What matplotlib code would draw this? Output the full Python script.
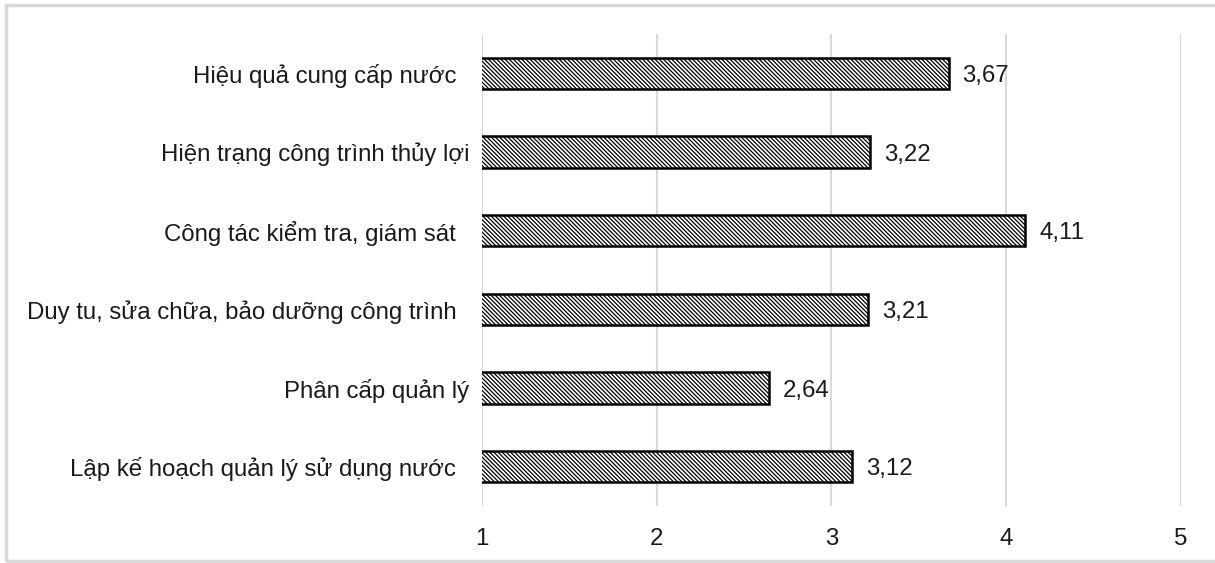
import matplotlib.pyplot as plt
from matplotlib.patches import Rectangle

plt.rcParams['font.family'] = ['Liberation Sans', 'DejaVu Sans']
plt.rcParams['hatch.linewidth'] = 0.9

categories = [
    "Hiệu quả cung cấp nước  ",
    "Hiện trạng công trình thủy lợi",
    "Công tác kiểm tra, giám sát  ",
    "Duy tu, sửa chữa, bảo dưỡng công trình  ",
    "Phân cấp quản lý",
    "Lập kế hoạch quản lý sử dụng nước  ",
]
scores = [3.67, 3.22, 4.11, 3.21, 2.64, 3.12]
xticks = [1, 2, 3, 4, 5]

fig = plt.figure(figsize=(12.15, 5.63), dpi=100)
ax = fig.add_axes([0.3967, 0.1012, 0.5753, 0.8384])

pos = list(range(len(categories)))[::-1]
ax.barh(pos, scores, height=0.4, color='white', edgecolor='black',
        linewidth=1.8, hatch='\\' * 8, zorder=3)

for p, v in zip(pos, scores):
    ax.annotate(f"{v:.2f}".replace('.', ','), xy=(v, p), xytext=(10, 0),
                textcoords='offset points', va='center_baseline', ha='left',
                fontsize=17.3, color='#1a1a1a')

ax.set_xlim(1, 5)
ax.set_ylim(-0.5, len(categories) - 0.5)
ax.set_xticks(xticks)
ax.set_xticklabels([str(t) for t in xticks])
ax.set_yticks(pos)
ax.set_yticklabels(categories)
ax.tick_params(axis='both', length=0, labelsize=17.3, colors='#1a1a1a')
ax.tick_params(axis='x', pad=16)
ax.tick_params(axis='y', pad=9)
for lbl in ax.get_yticklabels():
    lbl.set_verticalalignment('center_baseline')
ax.grid(axis='x', color='#d9d9d9', linewidth=1.5, zorder=0)
for s in ax.spines.values():
    s.set_visible(False)

# light frame round the chart
fig.patches.append(Rectangle((6 / 1215, 2 / 563), 1.2, 1 - 7 / 563,
                             transform=fig.transFigure, fill=False,
                             edgecolor='#d9d9d9', linewidth=2.5))

fig.savefig('out.png', dpi=100)
